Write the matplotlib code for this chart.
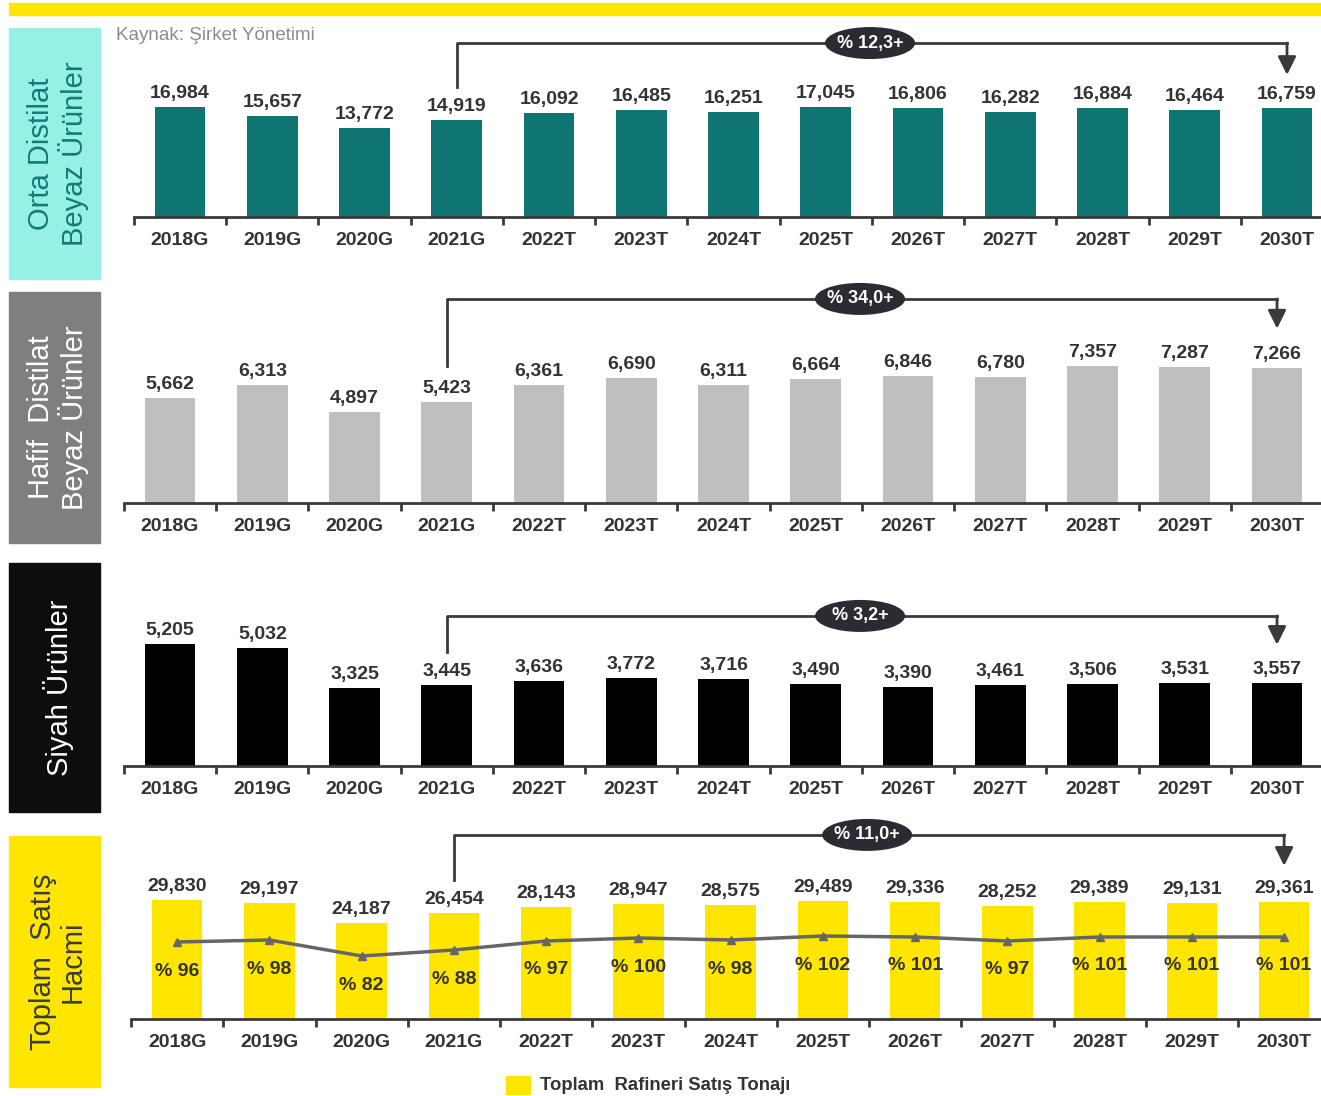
import matplotlib
matplotlib.use("Agg")
import matplotlib.pyplot as plt
from matplotlib.patches import Rectangle, Ellipse
import numpy as np

plt.rcParams['font.family'] = ['Liberation Sans', 'DejaVu Sans']

# data
years = ['2018G', '2019G', '2020G', '2021G', '2022T', '2023T', '2024T',
         '2025T', '2026T', '2027T', '2028T', '2029T', '2030T']
orta_distilat = [16984, 15657, 13772, 14919, 16092, 16485, 16251,
                 17045, 16806, 16282, 16884, 16464, 16759]
hafif_distilat = [5662, 6313, 4897, 5423, 6361, 6690, 6311,
                  6664, 6846, 6780, 7357, 7287, 7266]
siyah_urunler = [5205, 5032, 3325, 3445, 3636, 3772, 3716,
                 3490, 3390, 3461, 3506, 3531, 3557]
toplam_satis = [29830, 29197, 24187, 26454, 28143, 28947, 28575,
                29489, 29336, 28252, 29389, 29131, 29361]
kapasite_kullanim = [96, 98, 82, 88, 97, 100, 98, 102, 101, 97, 101, 101, 101]
growth_labels = ['% 12,3+', '% 34,0+', '% 3,2+', '% 11,0+']
panel_titles = ['Orta Distilat\nBeyaz Ürünler', 'Hafif  Distilat\nBeyaz Ürünler',
                'Siyah Ürünler', 'Toplam  Satış\nHacmi']

W, H = 1321, 1096
DARK = '#333333'
TEAL = '#0F7573'
YELLOW = '#FFE600'

fig = plt.figure(figsize=(W / 100, H / 100), dpi=100)


def px_axes(left, top, right, bottom):
    return fig.add_axes([left / W, 1 - bottom / H, (right - left) / W, (bottom - top) / H])


def fig_rect(x0, y0, x1, y1, color):
    fig.patches.append(Rectangle((x0 / W, 1 - y1 / H), (x1 - x0) / W, (y1 - y0) / H,
                                 transform=fig.transFigure, color=color, zorder=0))


# top yellow band
fig_rect(9, 3, 1321, 15, YELLOW)

panels = [
    # values, bar color, box color, box text color, left, top, bottom, ymax, box y range, bracket (y, start, arrow end)
    (orta_distilat, TEAL, '#97F0E5', '#127C79', 133.9, 25, 217, 29645, (28, 279), (0.906, 0.677, 0.74)),
    (hafif_distilat, '#BFBFBF', '#7F7F7F', 'white', 123.9, 285, 503, 11707, (292, 543), (0.936, 0.628, 0.80)),
    (siyah_urunler, '#000000', '#0D0D0D', 'white', 123.9, 600, 766, 7082, (563, 812), (0.904, 0.687, 0.73)),
    (toplam_satis, YELLOW, YELLOW, '#3A3A3A', 131.0, 820, 1019, 49887, (836, 1087), (0.925, 0.698, 0.77)),
]

spacing = 92.25
x = np.arange(len(years))

for i, (vals, bcol, boxcol, tcol, left, top, bottom, ymax, boxy, br) in enumerate(panels):
    # side label box
    fig_rect(9, boxy[0], 100, boxy[1], boxcol)
    fig.text(58 / W, 1 - (boxy[0] + boxy[1]) / 2 / H, panel_titles[i], rotation=90,
             ha='center', va='center', fontsize=21, color=tcol, linespacing=1.1,
             multialignment='center')

    ax = px_axes(left, top, W, bottom)
    ax.bar(x, vals, width=0.55, color=bcol, zorder=2)
    for s in ['top', 'right', 'left']:
        ax.spines[s].set_visible(False)
    ax.spines['bottom'].set_color('#3A3A3A')
    ax.spines['bottom'].set_linewidth(2)
    ax.set_yticks([])
    ax.set_xticks(x)
    ax.set_xticklabels(years, fontsize=14, fontweight='bold', color=DARK)
    ax.tick_params(axis='x', which='major', length=0, pad=11)
    ax.set_xticks(np.arange(-0.5, len(years), 1), minor=True)
    ax.tick_params(axis='x', which='minor', length=6, width=2, color='#3A3A3A')
    ax.set_xlim(-0.5, (W - left) / spacing - 0.5)
    ax.set_ylim(0, ymax)
    ax.patch.set_alpha(0)

    for xi, v in zip(x, vals):
        ax.annotate(f'{v:,}', (xi, v), xytext=(0, 5), textcoords='offset pixels',
                    ha='center', va='bottom', fontsize=14, fontweight='bold', color=DARK)

    # growth bracket
    tr = ax.get_xaxis_transform()
    ax.plot([3, 3, 12], [br[1], br[0], br[0]], color='#3A3A3E', lw=2,
            transform=tr, clip_on=False, zorder=3)
    ax.annotate('', xy=(12, br[2]), xycoords=tr, xytext=(12, br[0]), textcoords=tr,
                arrowprops=dict(arrowstyle='-|>,head_length=1.1,head_width=0.55',
                                color='#3A3A3E', lw=2, shrinkA=0, shrinkB=0))
    ax.add_patch(Ellipse((7.48, br[0]), 90 / spacing, 32 / (bottom - top), transform=tr,
                         fc='#2B2B33', ec='none', zorder=4, clip_on=False))
    ax.text(7.48, br[0], growth_labels[i], transform=tr, ha='center', va='center',
            fontsize=13, fontweight='bold', color='white', zorder=5)

    if i == 3:
        ax2 = ax.twinx()
        ax2.set_ylim(19, 218)
        ax2.axis('off')
        ax2.plot(x, kapasite_kullanim, color='#666666', lw=2.5, marker='^',
                 markersize=6, zorder=4)
        for xi, p in zip(x, kapasite_kullanim):
            ax2.annotate(f'% {p}', (xi, p), xytext=(0, -29), textcoords='offset pixels',
                         ha='center', va='center', fontsize=14, fontweight='bold',
                         color=DARK)

# source note
fig.text(116 / W, 1 - 35 / H, 'Kaynak: Şirket Yönetimi', fontsize=13.5,
         color='#8C8C8C', ha='left', va='center')

# legend
fig_rect(506, 1076, 530, 1094, YELLOW)
fig.text(540 / W, 1 - 1085 / H, 'Toplam  Rafineri Satış Tonajı', fontsize=13.3,
         fontweight='bold', color=DARK, ha='left', va='center')

fig.savefig('out.png', dpi=100)
